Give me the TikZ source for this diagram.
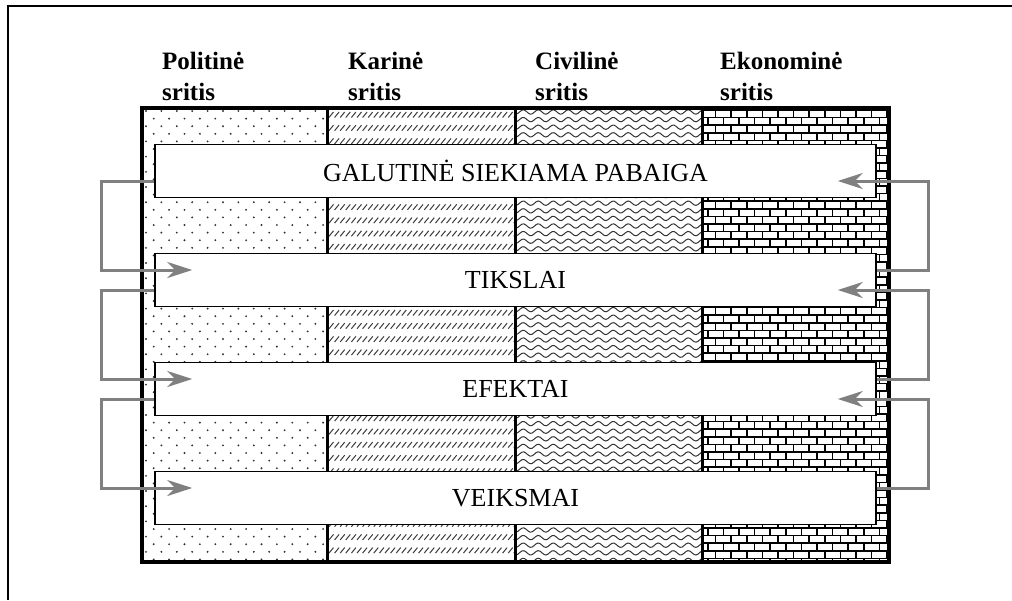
\documentclass[tikz,border=0pt]{standalone}
\usepackage{fontspec}
\setmainfont{Liberation Serif}
\usetikzlibrary{arrows.meta}
\definecolor{arrgray}{RGB}{128,128,128}
\definecolor{patgray}{RGB}{50,50,50}
\definecolor{hatchgray}{RGB}{60,60,60}
\begin{document}
\begin{tikzpicture}[x=1pt,y=-1pt,
  band/.style={draw=black, line width=1.5pt, fill=white, minimum width=721pt, minimum height=53pt, inner sep=0pt, font=\fontsize{26}{30}\selectfont},
  head/.style={anchor=base west, align=left, inner sep=0pt, font=\fontsize{25}{31}\selectfont\bfseries},
  flow/.style={draw=arrgray, line width=3pt, -{Stealth[length=25pt,width=16pt,inset=8pt]}},
]
\useasboundingbox (0,0) rectangle (1012,600);
\draw[line width=2pt] (8,600) -- (8,6) -- (1012,6);

% column 1: dots
\begin{scope}
\clip (142,108) rectangle (327,562);
\foreach \r [evaluate=\r as \yy using {111+\r*7.6}, evaluate=\r as \off using {mod(\r,2)*7.7}] in {0,...,60} {
  \foreach \c in {0,...,12} {
     \fill[patgray] (146+\off+\c*15.4, \yy) circle (1.05pt);
  }
}
\end{scope}

% column 2: short slanted hatch
\begin{scope}
\clip (327,108) rectangle (515,562);
\foreach \r [evaluate=\r as \yy using {112+\r*13.2}] in {0,...,35} {
  \foreach \c in {0,...,34} {
     \draw[hatchgray, line width=1pt] (329+\c*5.6, \yy+5.5) -- ++(4.5,-5.5);
  }
}
\end{scope}

% column 3: waves
\begin{scope}
\clip (515,108) rectangle (702,562);
\foreach \r [evaluate=\r as \yy using {112+\r*7.6}] in {0,...,60} {
  \draw[patgray, line width=1pt] plot[domain=0:194, samples=98] (512+\x, {\yy + 2.2*sin(\x*24)});
}
\end{scope}

% column 4: bricks
\begin{scope}
\clip (702,108) rectangle (889,562);
\foreach \r [evaluate=\r as \yy using {110+\r*7.6}, evaluate=\r as \off using {mod(\r,2)*7.8}] in {0,...,60} {
  \draw[black, line width=1.6pt] (700,\yy) -- (891,\yy);
  \foreach \c in {0,...,12} {
     \draw[black, line width=1.6pt] (700+\off+\c*15.6, \yy) -- ++(0,7.6);
  }
}
\end{scope}

% grid frame
\draw[line width=3.5pt] (142,108) rectangle (889,562);
\foreach \xx in {327,515,702} {
  \draw[line width=3pt] (\xx,108) -- (\xx,562);
}

% headers
\node[head] (h1) at (162,100) {Politinė\\sritis};
\node[head] (h2) at (348,100) {Karinė\\sritis};
\node[head] (h3) at (535,100) {Civilinė\\sritis};
\node[head] (h4) at (720,100) {Ekonominė\\sritis};

% bands
\node[band] (b1) at (515.5,171) {GALUTINĖ SIEKIAMA PABAIGA};
\node[band] (b2) at (515.5,280) {TIKSLAI};
\node[band] (b3) at (515.5,389) {EFEKTAI};
\node[band] (b4) at (515.5,498) {VEIKSMAI};

% left loops (downward)
\draw[flow] ([yshift=-10pt]b1.west) -- ++(-53,0) |- ([xshift=38pt,yshift=10pt]b2.west);
\draw[flow] ([yshift=-10pt]b2.west) -- ++(-53,0) |- ([xshift=38pt,yshift=10pt]b3.west);
\draw[flow] ([yshift=-10pt]b3.west) -- ++(-53,0) |- ([xshift=38pt,yshift=10pt]b4.west);
% right loops (upward)
\draw[flow] ([yshift=10pt]b2.east) -- ++(52,0) |- ([xshift=-39pt,yshift=-10pt]b1.east);
\draw[flow] ([yshift=10pt]b3.east) -- ++(52,0) |- ([xshift=-39pt,yshift=-10pt]b2.east);
\draw[flow] ([yshift=10pt]b4.east) -- ++(52,0) |- ([xshift=-39pt,yshift=-10pt]b3.east);
\end{tikzpicture}
\end{document}
